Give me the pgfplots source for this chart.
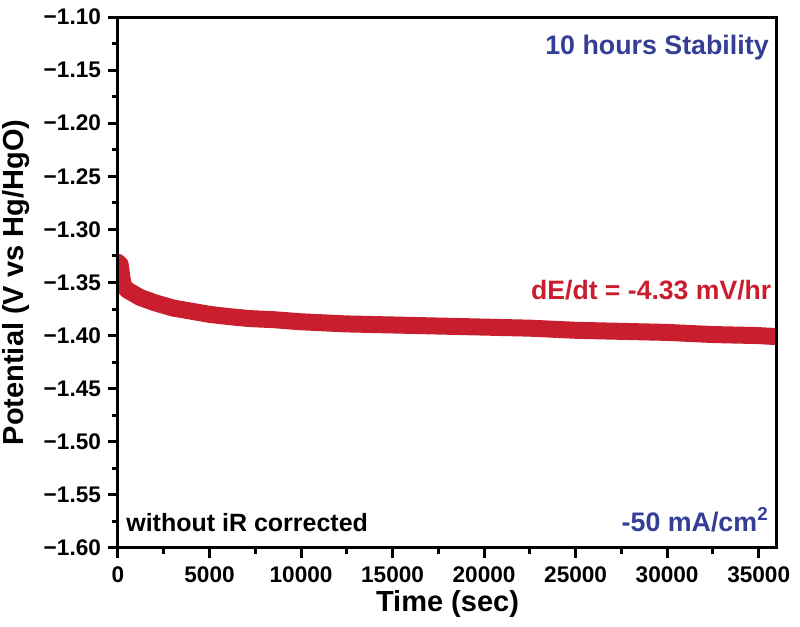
\documentclass[border=0pt]{standalone}
\usepackage{pgfplots}
\pgfplotsset{compat=1.18}
\usepackage{fontspec}
\setmainfont{Liberation Sans}
\definecolor{bandred}{RGB}{200,30,45}
\definecolor{txtblue}{RGB}{52,62,150}

\pgfplotstableread{
t E
0 -1.331
120 -1.333
220 -1.346
300 -1.353
500 -1.357
800 -1.360
1200 -1.364
2000 -1.369
3000 -1.374
4000 -1.377
5000 -1.380
6000 -1.382
7200 -1.384
8500 -1.385
10000 -1.387
12500 -1.389
15000 -1.390
17500 -1.391
20000 -1.392
22500 -1.393
25000 -1.395
27500 -1.396
30000 -1.397
32500 -1.399
35000 -1.400
36000 -1.401
}\stability

\begin{document}
\begin{tikzpicture}
\begin{axis}[
  scale only axis,
  width=329.5pt, height=265.5pt,
  xmin=0, xmax=36000,
  ymin=-1.60, ymax=-1.10,
  scaled ticks=false,
  axis line style={line width=1.5pt},
  axis on top,
  xtick={0,5000,10000,15000,20000,25000,30000,35000},
  xticklabels={0,5000,10000,15000,20000,25000,30000,35000},
  ytick={-1.60,-1.55,-1.50,-1.45,-1.40,-1.35,-1.30,-1.25,-1.20,-1.15,-1.10},
  yticklabels={−1.60,−1.55,−1.50,−1.45,−1.40,−1.35,−1.30,−1.25,−1.20,−1.15,−1.10},
  minor x tick num=1, minor y tick num=1,
  tick align=outside,
  xtick pos=bottom, ytick pos=left,
  major tick length=5pt, minor tick length=3pt,
  every tick/.style={line width=1.5pt, black},
  tick label style={font=\bfseries\fontsize{11.3}{13}\selectfont},
  xticklabel style={yshift=-1pt},
  xlabel={Time (sec)},
  ylabel={Potential (V vs Hg/HgO)},
  label style={font=\bfseries\fontsize{14.5}{16}\selectfont},
  xlabel style={yshift=3pt},
  ylabel style={yshift=0pt},
]
\addplot[bandred, line width=8.5pt, line join=round, line cap=round] table[x=t,y=E] {\stability};
\node[anchor=north east, text=txtblue, font=\bfseries\fontsize{13.4}{15}\selectfont, inner sep=0pt]
  at (rel axis cs:0.988,0.966) {10 hours Stability};
\node[anchor=east, text=bandred, font=\bfseries\fontsize{13.3}{15}\selectfont, inner sep=0pt]
  at (rel axis cs:0.992,0.485) {dE/dt = -4.33 mV/hr};
\node[anchor=south east, text=txtblue, font=\bfseries\fontsize{13.4}{15}\selectfont, inner sep=0pt]
  at (rel axis cs:0.988,0.03) {-50 mA/cm\textsuperscript{2}};
\node[anchor=south west, font=\bfseries\fontsize{12.5}{14}\selectfont, inner sep=0pt]
  at (rel axis cs:0.012,0.03) {without iR corrected};
\end{axis}
\pgfresetboundingbox
\path (-59pt,-39.5pt) rectangle (341pt,274pt);
\end{tikzpicture}
\end{document}
